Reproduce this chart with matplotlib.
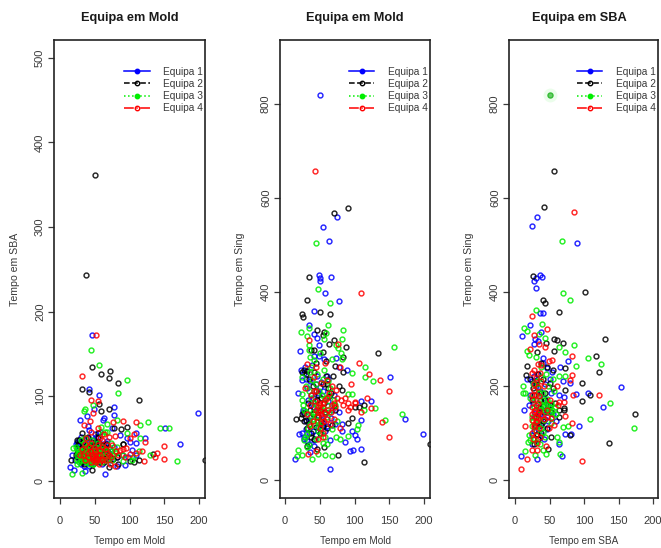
import matplotlib
matplotlib.use("Agg")
from matplotlib import pyplot as plt

plt.rcParams['font.family'] = ['Liberation Sans', 'DejaVu Sans']

# equipas em Mold: (tempo Mold, tempo SBA, tempo Sing)
mold_equipa1 = [(50,45,820),(75,62,559),(55,50,539),(63,74,508),(49,85,436),(51,40,430),(51,30,423),(66,45,432),
    (57,35,399),(77,78,382),(42,109,360),(35,28,329),(42,60,311),(46,172,302),(49,38,288),(21,25,274),(41,50,265),
    (49,42,264),(73,35,260),(23,44,235),(39,77,245),(78,87,241),(89,30,234),(151,62,220),(18,30,185),(110,45,169),
    (123,50,169),(26,44,150),(77,40,144),(199,80,98),(172,44,129),(109,57,128),(96,50,104),(100,46,96),(103,36,88),
    (86,54,82),(65,40,86),(109,30,67),(98,28,65),(93,19,62),(65,8,23),(15,16,45),(36,12,59),(20,13,98),(82,17,119),
    (82,28,105),(28,48,228),(30,52,215),(36,30,210),(44,38,205),(50,55,198),(60,30,222),(55,25,190),(33,44,170),
    (38,36,160),(47,28,150),(52,33,130),(55,26,122),(48,48,112),(40,22,105),(35,35,100),(24,30,100),(27,28,92),
    (32,42,84),(45,20,95),(58,58,140),(62,72,215),(70,33,180),(40,65,175),(36,24,135),(30,20,125),(42,18,85),
    (60,20,115),(68,47,150),(29,72,240),(56,101,258),(25,46,212),(31,40,195),(37,50,180),(43,32,168),(48,24,138),
    (53,40,118),(58,35,105),(26,36,145),(30,30,108),(35,22,128),(40,44,155),(46,36,222),(52,52,208),(62,44,168),
    (66,28,132),(72,24,120),(28,26,88),(34,18,76),(41,28,72),(47,42,185)]
mold_equipa2 = [(90,43,579),(70,85,569),(35,30,433),(31,108,384),(25,48,354),(26,42,347),(50,362,357),(65,37,354),
    (46,135,320),(56,91,314),(55,56,309),(70,122,299),(64,40,289),(88,61,284),(134,32,271),(38,243,277),(42,105,277),
    (54,36,273),(83,116,262),(45,30,250),(59,126,254),(72,130,243),(84,20,229),(31,57,233),(25,33,229),(69,30,222),
    (59,83,222),(82,28,191),(77,62,200),(106,22,156),(100,23,156),(113,95,160),(96,64,133),(91,43,121),(16,25,131),
    (23,30,133),(27,48,142),(67,35,117),(60,28,110),(56,45,70),(76,26,53),(114,25,39),(46,13,67),(208,24,76),(31,25,72),
    (70,16,160),(28,44,235),(30,38,225),(34,35,215),(40,30,200),(44,42,190),(48,26,180),(52,34,175),(56,22,165),
    (36,28,150),(40,38,140),(30,26,128),(35,20,120),(44,24,112),(50,30,100),(38,33,92),(42,40,88),(55,52,205),(62,32,195),
    (66,44,185),(58,24,145),(48,20,135),(52,46,125),(72,28,150),(33,46,165),(24,28,140),(28,32,125),(32,22,110),(37,40,100),
    (41,52,230),(46,46,170),(51,38,150),(54,28,115),(60,42,205),(64,22,178)]
mold_equipa3 = [(45,154,504),(48,89,407),(65,58,376),(62,40,330),(84,104,320),(23,40,316),(35,83,323),(31,35,306),
    (59,64,313),(56,137,300),(82,72,300),(34,45,287),(157,62,284),(74,35,287),(76,30,282),(34,25,277),(81,33,271),
    (36,50,262),(82,40,257),(68,67,257),(115,66,241),(97,119,228),(115,51,220),(126,70,210),(91,23,184),(97,56,184),
    (25,30,183),(25,38,220),(130,30,154),(114,35,149),(144,62,128),(169,23,140),(105,28,117),(104,25,109),(91,30,94),
    (73,45,92),(79,35,87),(60,55,77),(47,20,55),(57,25,53),(67,58,51),(39,22,45),(25,20,53),(17,8,51),(19,39,65),
    (32,9,71),(29,30,92),(64,28,144),(30,25,200),(35,30,190),(38,22,175),(42,35,165),(45,28,160),(50,32,155),(55,24,150),
    (58,38,175),(60,22,135),(40,42,130),(36,26,120),(33,30,110),(48,20,105),(52,36,100),(44,25,88),(28,22,85),(65,30,195),
    (70,26,170),(55,45,215),(46,48,225),(62,34,210),(38,36,240),(42,20,255),(50,40,270),(72,38,160),(30,48,145),(75,24,125),
    (26,33,160),(36,85,230),(40,27,145),(47,33,125),(53,27,180),(24,24,170),(28,35,150),(32,28,98),(37,32,135),(41,24,118),
    (44,30,205),(49,26,190),(51,22,115),(54,33,78),(58,28,92),(61,26,160),(34,38,75),(39,34,212),(43,40,142),(46,22,128),
    (56,34,235),(63,37,180),(68,24,108)]
mold_equipa4 = [(43,71,657),(34,66,298),(109,69,397),(76,69,289),(106,55,250),(57,50,250),(31,124,247),(45,96,240),
    (79,53,241),(121,23,226),(137,28,212),(95,39,204),(149,41,189),(118,35,174),(100,32,167),(123,46,154),(109,33,144),
    (139,33,123),(149,26,92),(33,30,55),(45,22,62),(48,80,87),(54,94,92),(79,18,110),(52,172,121),(60,40,131),(70,52,131),
    (90,71,149),(54,62,163),(101,51,163),(43,35,169),(29,30,195),(42,40,220),(52,27,206),(60,25,213),(68,33,201),(74,28,191),
    (45,45,150),(48,28,145),(50,35,160),(52,22,140),(46,30,135),(55,42,155),(58,30,170),(62,26,150),(66,38,145),(70,30,165),
    (75,42,175),(80,35,170),(84,30,160),(40,33,125),(36,25,115),(56,20,125),(60,48,175),(64,55,185),(38,50,180),(44,58,190),
    (50,24,110),(54,30,100),(72,20,155),(90,38,165),(32,38,140),(47,25,155),(51,30,148),(49,38,165),(53,26,135),(57,36,142),
    (41,28,190),(36,44,160),(65,24,120),(68,42,160),(86,36,175),(93,28,155)]

# equipas em SBA: (tempo SBA, tempo Sing)
sba_equipa1 = [(32,560),(25,541),(90,505),(36,437),(39,433),(30,430),(28,424),(31,408),(36,355),(41,355),(22,330),(10,307),
    (38,315),(29,301),(34,296),(28,289),(76,254),(65,241),(53,231),(70,211),(79,207),(154,199),(88,184),(105,186),(71,177),
    (63,182),(127,155),(13,149),(29,143),(92,116),(72,99),(81,98),(63,77),(68,52),(32,45),(8,52),(46,145),(39,122),(60,125),
    (27,221),(18,216),(41,250),(46,239),(34,87),(24,76),(30,200),(36,190),(42,175),(26,165),(33,155),(48,160),(52,185),(44,130),
    (35,115),(28,105),(38,95),(46,108),(55,140),(22,180),(40,260),(24,210),(32,225),(44,205),(50,215),(28,135),(36,140),(41,150),
    (48,125),(30,118),(25,95),(42,88),(20,160)]
sba_equipa2 = [(57,657),(42,581),(26,435),(102,400),(41,384),(43,377),(64,358),(130,301),(57,301),(61,299),(69,291),(45,291),
    (32,272),(57,274),(117,263),(18,243),(72,239),(121,229),(97,206),(16,223),(72,192),(108,180),(97,169),(71,154),(71,149),
    (63,150),(174,140),(64,134),(136,80),(79,95),(48,67),(55,196),(51,206),(41,157),(36,154),(27,76),(34,87),(47,240),(37,250),
    (22,215),(30,210),(26,195),(38,185),(44,170),(50,160),(58,165),(33,140),(40,125),(29,115),(46,110),(38,100),(52,92),(31,205),
    (55,235),(42,145),(24,170),(34,225),(40,215),(28,180),(36,170),(46,150),(52,145),(30,135),(38,118),(44,185),(32,98)]
sba_equipa3 = [(68,509),(69,397),(79,384),(31,361),(39,332),(13,323),(18,318),(35,311),(43,302),(86,287),(63,284),(18,274),
    (20,267),(73,272),(105,259),(125,247),(88,242),(63,221),(73,221),(55,216),(11,201),(12,186),(15,186),(138,163),(109,130),
    (172,110),(69,113),(76,115),(61,91),(63,82),(65,55),(45,56),(29,54),(41,65),(15,61),(19,81),(30,262),(38,240),(45,225),
    (26,205),(34,195),(40,185),(22,175),(30,170),(46,172),(52,165),(58,155),(28,155),(36,150),(44,148),(50,145),(25,135),(33,130),
    (42,128),(54,135),(60,140),(24,115),(30,105),(37,110),(20,95),(28,88),(44,92),(22,85),(48,200),(56,190),(38,160),(42,158),
    (46,160),(50,155),(54,150),(40,170),(48,150),(35,185),(32,210),(37,220),(26,125),(34,118),(40,102),(30,82),(36,76),(52,122)]
sba_equipa4 = [(85,571),(25,348),(46,321),(28,309),(35,289),(43,284),(22,278),(83,263),(54,255),(49,253),(83,223),(79,213),(61,200),
    (122,182),(84,180),(71,166),(64,167),(51,170),(62,159),(72,136),(82,122),(57,117),(14,115),(8,23),(17,45),(97,40),(24,65),(32,65),
    (45,72),(49,111),(33,248),(38,245),(28,235),(36,228),(24,228),(30,218),(38,210),(28,205),(34,198),(42,200),(25,182),(31,180),
    (26,172),(33,165),(24,155),(29,150),(35,148),(24,140),(30,135),(38,138),(46,135),(25,128),(32,125),(28,118),(35,110),(24,100),
    (30,95),(36,92),(26,88),(32,78),(42,130),(52,132),(47,150),(27,192),(35,178),(30,160),(27,145),(33,142),(27,112),(30,125),(34,132)]

# ponto realcado no painel da direita
destaque_x = [50]
destaque_y = [820]

equipas = ['Equipa 1', 'Equipa 2', 'Equipa 3', 'Equipa 4']
cores = ['#0000ff', '#000000', '#00ee00', '#ff0000']
linhas = ['-', '--', ':', '-.']
cinza = '#3a3a3a'
W, H = 661, 548


def painel(box, xlim, ylim, yticks, titulo, xlab, ylab, series, tx, ylx):
    l, t, r, b = box
    ax = fig.add_axes([l/W, 1-b/H, (r-l)/W, (b-t)/H])
    for (x, y), c, ls, nome in zip(series, cores, linhas, equipas):
        ax.plot(x, y, ls='none', marker='o', ms=3.5, mew=1.05, mfc='none', mec=c, alpha=0.85)
        ax.plot([], [], ls=ls, lw=1.1, marker='o', ms=3.2, mew=1.0, mfc=c if c != '#000000' and ls != '-.' else 'none',
                mec=c, color=c, label=nome)
    ax.set_xlim(xlim)
    ax.set_ylim(ylim)
    ax.set_xticks([0, 50, 100, 150, 200])
    ax.set_yticks(yticks)
    ax.tick_params(colors=cinza, labelsize=8.0, length=4, width=0.9)
    ax.tick_params(axis='x', pad=9)
    ax.tick_params(axis='y', pad=2.5)
    for lab in ax.get_yticklabels():
        lab.set_rotation(90)
        lab.set_va('center')
    for s in ax.spines.values():
        s.set_linewidth(1.2)
        s.set_color('#222222')
    ax.legend(loc='upper right', frameon=False, fontsize=7.3, labelspacing=0.22, handlelength=2.5, handletextpad=1.3,
              bbox_to_anchor=(1.025, 0.955), borderaxespad=0.2, labelcolor=cinza)
    fig.text(tx/W, 1-18/H, titulo, ha='center', va='center', fontsize=9.2, fontweight='bold', color='#1a1a1a')
    fig.text((l+r)/2/W, 1-541/H, xlab, ha='center', va='center', fontsize=7.2, color=cinza)
    fig.text(ylx/W, 1-269/H, ylab, ha='center', va='center', rotation=90, fontsize=7.6, color=cinza)
    return ax


def mold_sba(eq):
    m, s, n = zip(*eq)
    return m, s


def mold_sing(eq):
    m, s, n = zip(*eq)
    return m, n


fig = plt.figure(figsize=(6.61, 5.48), dpi=100)
moldes = [mold_equipa1, mold_equipa2, mold_equipa3, mold_equipa4]
sbas = [sba_equipa1, sba_equipa2, sba_equipa3, sba_equipa4]

painel((54, 40, 205, 498), (-8.6, 208.6), (-20.4, 521), [0, 100, 200, 300, 400, 500],
       'Equipa em Mold', 'Tempo em Mold', 'Tempo em SBA', [mold_sba(e) for e in moldes], 130, 15)
painel((280, 40, 430, 498), (-7.2, 208.6), (-38, 936), [0, 200, 400, 600, 800],
       'Equipa em Mold', 'Tempo em Mold', 'Tempo em Sing', [mold_sing(e) for e in moldes], 355, 240)
ax3 = painel((509, 40, 658, 498), (-8.7, 207), (-38, 936), [0, 200, 400, 600, 800],
             'Equipa em SBA', 'Tempo em SBA', 'Tempo em Sing', [tuple(zip(*e)) for e in sbas], 579, 469)
ax3.plot(destaque_x, destaque_y, ls='none', marker='o', ms=10, mfc='#00ee00', mec='none', alpha=0.08)
ax3.plot(destaque_x, destaque_y, ls='none', marker='o', ms=3.6, mfc='#66cc66', mec='#33bb33', mew=1.0)

fig.savefig('out.png', dpi=100)
